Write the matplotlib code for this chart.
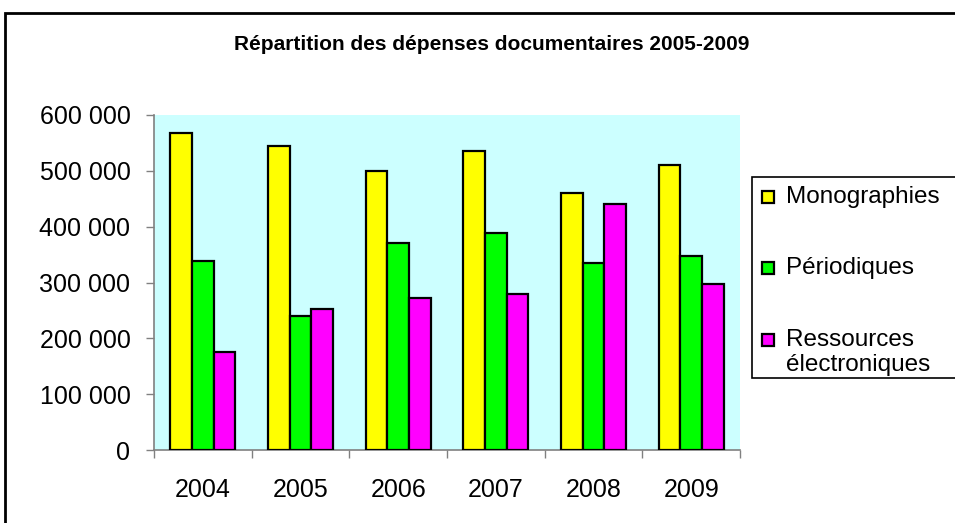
import numpy as np
import matplotlib
matplotlib.use('Agg')
import matplotlib.pyplot as plt
from matplotlib.patches import Rectangle
from matplotlib.ticker import FuncFormatter, FixedLocator

plt.rcParams['font.family'] = ['Liberation Sans', 'DejaVu Sans']

years = ['2004', '2005', '2006', '2007', '2008', '2009']
monographies = [567000, 544000, 499000, 536000, 461000, 511000]
periodiques = [338000, 240000, 370000, 389000, 335000, 347000]
ressources = [175000, 252000, 273000, 279000, 441000, 297000]

series = [
    (['Monographies'], monographies, '#FFFF00'),
    (['Périodiques'], periodiques, '#00FF00'),
    (['Ressources', 'électroniques'], ressources, '#FF00FF'),
]

W, H = 955, 523
fig = plt.figure(figsize=(W / 100, H / 100), dpi=100)
ax = fig.add_axes([154 / W, 1 - 450 / H, (740 - 154) / W, (450 - 115) / H])
ax.set_facecolor('#CCFFFF')

x = np.arange(len(years))
w = 0.222
for i, (name, vals, col) in enumerate(series):
    ax.bar(x + (i - 1) * w, vals, width=w, color=col, edgecolor='black',
           linewidth=1.6, zorder=3)

ax.set_xlim(-0.5, len(years) - 0.5)
ax.set_ylim(0, 600000)
ax.set_yticks(np.arange(0, 600001, 100000))
ax.yaxis.set_major_formatter(FuncFormatter(lambda v, p: f"{int(v):,}".replace(',', ' ')))
ax.set_xticks(x)
ax.set_xticklabels(years)
ax.xaxis.set_minor_locator(FixedLocator(np.arange(-0.5, len(years), 1.0)))

ax.tick_params(axis='y', length=6, width=1, color='#808080', pad=11, labelsize=18, direction='out')
ax.tick_params(axis='x', which='major', length=0, pad=20, labelsize=18)
ax.tick_params(axis='x', which='minor', length=6, width=1, color='#808080', direction='out')

for s in ['top', 'right']:
    ax.spines[s].set_visible(False)
for s in ['left', 'bottom']:
    ax.spines[s].set_color('#808080')
    ax.spines[s].set_linewidth(1.2)

fig.text(492 / W, 1 - 45 / H, 'Répartition des dépenses documentaires 2005-2009',
         ha='center', va='center', fontsize=15, fontweight='bold')

# legend, drawn by hand in pixel positions (Excel style)
def px(xp, yp):
    return xp / W, 1 - yp / H

fig.patches.append(Rectangle(px(752, 378), 300 / W, 201 / H, transform=fig.transFigure,
                             facecolor='white', edgecolor='black', linewidth=1.2))
entry_y = [197, 268, 340]
for (lines, vals, col), yy in zip(series, entry_y):
    fig.patches.append(Rectangle(px(762, yy + 6), 12 / W, 12 / H, transform=fig.transFigure,
                                 facecolor=col, edgecolor='black', linewidth=1.6))
    for k, line in enumerate(lines):
        fig.text(*px(786, yy + k * 25), line, ha='left', va='center', fontsize=17.5)

# outer chart frame
fig.patches.append(Rectangle((5 / W, -0.1), 1.2, 1 - 13 / H + 0.1,
                             transform=fig.transFigure, fill=False,
                             edgecolor='black', linewidth=2))

fig.savefig('out.png', dpi=100)
